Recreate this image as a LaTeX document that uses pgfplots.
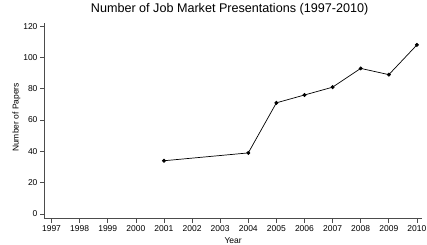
\documentclass[border=0pt]{standalone}
\usepackage{pgfplots}
\pgfplotsset{compat=1.18}
\usepackage{fontspec}
\setmainfont{Liberation Sans}
\begin{document}
\begin{tikzpicture}
\begin{axis}[
  at={(0,0)}, anchor=south west,
  scale only axis,
  width=377.2pt, height=195.5pt,
  xmin=1996.75, xmax=2010.17,
  ymin=-2.9, ymax=122,
  axis x line*=bottom, axis y line*=left,
  axis line style={line width=0.6pt, black!70},
  xtick={1997,...,2010},
  ytick={0,20,...,120},
  xticklabel style={/pgf/number format/1000 sep={}},
  /pgf/number format/assume math mode=true,
  tick style={line width=0.6pt, black!70},
  tick align=outside,
  major tick length=4.5pt,
  ticklabel style={font=\fontsize{8.5}{10}\selectfont},
  xticklabel style={yshift=1pt},
  yticklabel style={xshift=1pt},
  xlabel={Year},
  ylabel={Number of Papers},
  label style={font=\fontsize{8.5}{10}\selectfont},
  xlabel style={at={(0.5,0)}, anchor=base, yshift=-24.9pt},
  ylabel style={at={([xshift=-26pt]axis description cs:0,0.517)}, anchor=base},
  title={Number of Job Market Presentations (1997-2010)},
  title style={font=\fontsize{12.6}{14}\selectfont, at={(0.5,1)}, anchor=base, yshift=4.7pt, xshift=-3.5pt},
  clip=false,
]
\addplot[black, line width=0.7pt, mark=*, mark size=1.6pt] coordinates {
  (2001,34) (2004,39) (2005,71) (2006,76) (2007,81) (2008,93) (2009,89) (2010,108)
};
\end{axis}
\pgfresetboundingbox
\path (-44.5pt,-26.5pt) rectangle (382.5pt,218.5pt);
\end{tikzpicture}
\end{document}
